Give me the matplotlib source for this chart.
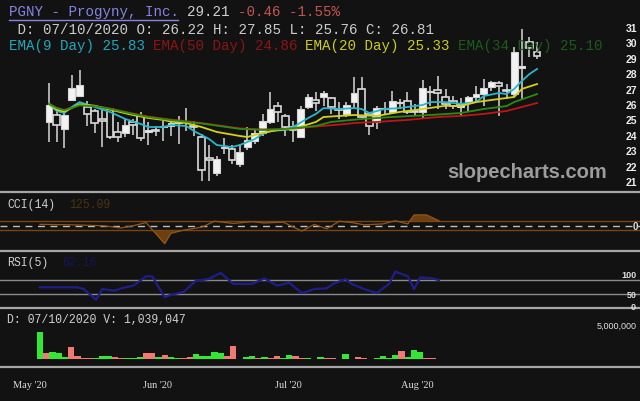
import matplotlib
matplotlib.use('Agg')
import matplotlib.pyplot as plt
from matplotlib.lines import Line2D

W, H = 640, 402
BG = '#121212'

# ---------------- data ----------------
opens = [24.92, 25.35, 24.44, 26.32, 26.60, 25.89, 25.59, 25.09, 25.74, 24.23,
         24.18, 24.88, 25.27, 24.27, 24.40, 24.55, 24.66, 24.83, 24.88, 24.66,
         23.90, 22.56, 21.58, 23.22, 23.14, 22.17, 23.25, 23.68, 24.18, 24.88,
         25.92, 25.27, 24.55, 23.90, 25.85, 26.35, 26.54, 26.45, 25.74, 25.42,
         26.22, 27.04, 25.42, 24.88, 25.72, 25.53, 26.11, 26.28, 25.63, 25.55,
         26.82, 26.98, 26.52, 26.26, 25.87, 26.19, 26.52, 26.71, 27.17, 27.43,
         26.93, 26.71, 28.40, 30.11, 29.45]
highs = [27.43, 25.74, 25.74, 27.95, 28.29, 26.28, 25.74, 25.74, 25.79, 24.88,
         25.09, 25.09, 25.53, 24.88, 24.66, 24.98, 25.05, 25.31, 25.79, 24.98,
         24.12, 23.40, 22.71, 23.84, 23.40, 23.47, 24.55, 24.44, 25.42, 26.82,
         26.18, 25.42, 24.98, 25.95, 26.71, 26.82, 26.93, 26.50, 26.18, 26.21,
         27.85, 27.80, 25.53, 25.95, 26.18, 26.93, 26.39, 26.82, 26.07, 27.64,
         27.25, 27.86, 27.04, 26.58, 26.45, 26.58, 27.23, 27.69, 27.56, 27.56,
         27.36, 29.77, 30.93, 30.42, 30.09]
lows = [23.58, 23.58, 23.19, 26.28, 26.56, 24.66, 24.18, 23.25, 23.79, 23.62,
        23.90, 24.05, 23.68, 23.40, 23.97, 23.68, 24.01, 23.47, 24.33, 24.01,
        21.08, 21.08, 21.41, 22.82, 22.17, 21.95, 23.10, 23.47, 23.97, 24.77,
        24.88, 23.97, 23.62, 23.84, 25.74, 25.60, 25.95, 25.42, 25.09, 25.20,
        25.76, 25.13, 24.05, 24.44, 25.42, 25.42, 25.74, 25.42, 25.31, 25.14,
        25.95, 25.74, 25.74, 25.74, 25.29, 25.55, 26.19, 25.93, 26.91, 25.29,
        26.39, 26.52, 26.39, 29.12, 28.99]
closes = [26.02, 24.72, 25.37, 27.08, 27.30, 25.42, 24.81, 24.98, 23.90, 23.90,
          24.70, 24.72, 23.86, 24.40, 24.31, 24.66, 24.81, 25.03, 24.98, 24.55,
          21.80, 22.45, 22.49, 23.28, 22.45, 22.93, 23.73, 24.18, 24.98, 25.74,
          25.53, 24.55, 24.40, 25.74, 26.54, 26.15, 26.76, 25.85, 25.68, 26.02,
          26.81, 25.20, 24.66, 25.79, 25.76, 26.28, 26.21, 25.53, 25.57, 27.10,
          26.93, 26.76, 26.07, 25.93, 26.13, 26.52, 26.71, 27.10, 27.49, 27.23,
          26.91, 29.44, 28.53, 29.67, 29.21]

# EMA lines: (bar index, value)
ema9_idx = [0, 1, 2, 3, 4, 6, 8, 10, 12, 13, 15, 16, 18, 19, 21, 22, 24, 25, 27, 28, 29, 31,
            32, 34, 35, 36, 38, 40, 41, 42, 44, 46, 47, 49, 50, 52, 54, 56, 57, 59, 60, 61, 62, 63, 64]
ema9_val = [26.07, 25.61, 25.48, 25.87, 26.19, 25.87, 25.55, 25.09, 24.77, 24.57, 24.57, 24.70,
            24.64, 24.31, 23.79, 23.40, 23.27, 23.40, 23.79, 24.12, 24.31, 24.38, 24.57, 25.16,
            25.42, 25.80, 25.74, 25.80, 25.74, 25.48, 25.74, 25.80, 25.87, 26.00, 26.19, 26.19,
            26.07, 26.19, 26.58, 26.78, 26.71, 27.04, 27.56, 28.01, 28.34]
ema20_idx = [0, 1, 2, 4, 6, 8, 11, 13, 15, 16, 18, 20, 22, 25, 26, 28, 30, 32, 35, 36, 40, 43,
             46, 49, 52, 54, 56, 59, 61, 62, 64]
ema20_val = [26.07, 25.70, 25.58, 26.05, 25.95, 25.70, 25.35, 25.16, 25.03, 24.92, 24.83, 24.57,
             24.25, 23.99, 23.92, 24.18, 24.38, 24.44, 24.90, 25.22, 25.35, 25.29, 25.55, 25.74,
             25.95, 25.93, 26.19, 26.39, 26.52, 27.04, 27.36]
ema34_idx = [0, 1, 2, 4, 6, 8, 11, 13, 16, 20, 25, 28, 31, 35, 37, 41, 45, 50, 54, 57, 60, 61, 64]
ema34_val = [26.07, 25.80, 25.66, 25.98, 25.92, 25.75, 25.42, 25.22, 25.02, 24.80, 24.45, 24.38,
             24.44, 24.64, 24.90, 25.09, 25.22, 25.35, 25.48, 25.74, 25.93, 26.19, 26.71]
ema50_idx = [0, 1, 2, 4, 6, 8, 11, 13, 16, 20, 25, 28, 31, 34, 39, 40, 43, 47, 51, 54, 57, 60, 62, 64]
ema50_val = [26.08, 25.82, 25.68, 26.00, 25.94, 25.77, 25.45, 25.25, 25.05, 24.83, 24.48, 24.41,
             24.43, 24.56, 24.77, 24.83, 24.90, 25.03, 25.22, 25.29, 25.42, 25.61, 25.87, 26.13]

price_ticks = [21, 22, 23, 24, 25, 26, 27, 28, 29, 30, 31]

# CCI(14): (bar index, value)
cci_idx = [0, 5, 10, 13, 15, 17, 20, 21, 23, 26, 28, 31, 34, 36, 39, 42, 44, 46, 48, 50, 52, 55,
           57, 59, 60, 62, 64]
cci_val = [30, 20, 0, -50, 0, 70, -400, -170, -100, -30, 100, 50, 90, 60, 80, -120, 30, -70, 100,
           70, 20, 40, 110, 40, 240, 240, 110]

# RSI(5): (bar index, value)
rsi_idx = [0, 6, 7, 9, 10, 12, 13, 15, 17, 18, 20, 21, 23, 25, 27, 29, 31, 34, 36, 38, 40, 42,
           44, 46, 47, 49, 50, 52, 54, 56, 57, 59, 60, 61, 63, 64]
rsi_val = [49, 49, 44, 13, 44, 39, 46, 54, 81, 81, 20, 27, 35, 68, 73, 91, 59, 59, 75, 54, 62,
           32, 44, 46, 59, 73, 59, 44, 32, 59, 95, 81, 44, 78, 75, 70]

# Volume (millions) and up/down flag (1 = up / green)
volume = [3.90, 0.86, 0.95, 0.86, 0.24, 1.76, 0.38, 0.19, 0.19, 0.19,
          0.48, 0.38, 0.33, 0.10, 0.10, 0.19, 0.24, 0.86, 0.81, 0.24,
          0.62, 0.33, 0.19, 0.10, 0.29, 0.67, 0.48, 0.38, 1.00, 0.86,
          0.48, 1.90, 0.05, 0.24, 0.43, 0.19, 0.24, 0.19, 0.38, 0.19,
          0.57, 0.38, 0.19, 0.19, 0.05, 0.29, 0.14, 0.10, 0.05, 0.67,
          0.05, 0.24, 0.10, 0.05, 0.10, 0.43, 0.14, 0.62, 1.10, 0.24,
          1.30, 1.05, 0.19, 0.10, 0.05]
vol_up = [1, 0, 1, 1, 1, 0, 0, 0, 0, 1,
          1, 1, 0, 0, 1, 1, 1, 0, 0, 1,
          0, 1, 1, 0, 0, 1, 1, 1, 1, 1,
          0, 0, 1, 1, 1, 0, 1, 0, 0, 1,
          1, 0, 0, 1, 1, 1, 0, 0, 1, 1,
          1, 0, 0, 1, 1, 1, 1, 1, 0, 1,
          1, 1, 0, 0, 0]

month_labels = ["May '20", "Jun '20", "Jul '20", "Aug '20"]
month_pos = [-1.6, 18.8, 39.8, 60.5]   # on the lower-panel bar scale

# ---------------- figure ----------------
fig = plt.figure(figsize=(W / 100, H / 100), dpi=100, facecolor=BG)

def fy(y):
    return 1 - y / H

def add_ax(top, bottom):
    ax = fig.add_axes([0, fy(bottom), 1, (bottom - top) / H])
    ax.set_facecolor(BG)
    ax.axis('off')
    return ax

ax = add_ax(0, 192)
ax_cci = add_ax(193, 251)
ax_rsi = add_ax(251, 308)
ax_vol = add_ax(308, 367)

# main panel scale
ax.set_xlim(-6.43, 77.5)
ax.set_ylim(20.415, 32.883)
low_xlim = (-6.42, 96.25)
for a in (ax_cci, ax_rsi, ax_vol):
    a.set_xlim(*low_xlim)

# candles
n = len(closes)
for i in range(n):
    o, h, l, c = opens[i], highs[i], lows[i], closes[i]
    ax.vlines(i, l, h, color='#c8c8c8', lw=1.2, zorder=2)
    bot = min(o, c)
    hgt = max(abs(c - o), 0.07)
    if c >= o:
        ax.bar(i, hgt, bottom=bot, width=0.9, color='#f2f2f2', edgecolor='#d4d4d4',
               lw=0.8, zorder=3)
    else:
        ax.bar(i, hgt, bottom=bot, width=0.9, color=BG, edgecolor='#dadada',
               lw=1.2, zorder=3)

ax.plot(ema50_idx, ema50_val, color='#c01515', lw=1.3, zorder=4)
ax.plot(ema9_idx, ema9_val, color='#2ab6cc', lw=1.3, zorder=5)
ax.plot(ema20_idx, ema20_val, color='#d2d21e', lw=1.3, zorder=6)
ax.plot(ema34_idx, ema34_val, color='#2a8a12', lw=1.3, zorder=7)

for t in price_ticks:
    ax.text(626 / W, t, str(t), transform=ax.get_yaxis_transform(), color='#ececec',
            fontsize=7.5, fontweight='bold', family='Liberation Sans', va='center', ha='left')

fig.text(527 / W, fy(173), 'slopecharts.com', color='#9c9c9c', fontsize=14.5,
         fontweight='bold', family='Liberation Sans', ha='center', va='center')

# header texts (monospace, char width 8.47 px)
MONO = 'Liberation Mono'
cw = 8.47

def seg(x_char, y, s, color, size=10.2, cwid=cw, x0=9):
    fig.text((x0 + x_char * cwid) / W, fy(y), s, color=color, fontsize=size,
             family=MONO, ha='left', va='center')

seg(0, 12, 'PGNY - Progyny, Inc.', '#8585e6')
fig.add_artist(Line2D([9 / W, 178 / W], [fy(20.5), fy(20.5)], color='#8585e6', lw=1.0))
seg(21, 12, '29.21', '#d0d0d0')
seg(27, 12, '-0.46 -1.55%', '#c45454')
seg(0, 30, ' D: 07/10/2020 O: 26.22 H: 27.85 L: 25.76 C: 26.81', '#cccccc')
seg(0, 46, 'EMA(9 Day) 25.83', '#1fa8bc')
seg(17, 46, 'EMA(50 Day) 24.86', '#8e1414')
seg(35, 46, 'EMA(20 Day) 25.33', '#cccc1c')
seg(53, 46, 'EMA(34 Day) 25.10', '#1a5c1a')

# ---------------- CCI ----------------
ax_cci.set_ylim(-540, 749)
ax_cci.axhline(100, color='#7c4410', lw=1.0)
ax_cci.axhline(-100, color='#7c4410', lw=1.0)
ax_cci.axhline(0, color='#bdbdbd', lw=1.0, ls=(0, (5, 4)))
ax_cci.plot(cci_idx, cci_val, color='#93561a', lw=0.9)
ax_cci.fill_between(cci_idx, cci_val, 100, where=[v > 100 for v in cci_val],
                    interpolate=True, color='#6e3f10', lw=0)
ax_cci.fill_between(cci_idx, cci_val, -100, where=[v < -100 for v in cci_val],
                    interpolate=True, color='#6e3f10', lw=0)
seg(0, 205, 'CCI(14)', '#d0d0d0', size=8.3, cwid=6.9, x0=7)
seg(9, 205, '125.09', '#4a3212', size=8.3, cwid=6.9, x0=7)
ax_cci.text(633 / W, 0, '0', transform=ax_cci.get_yaxis_transform(), color='#e0e0e0',
            fontsize=7, fontweight='bold', family='Liberation Sans', va='center', ha='left')

# ---------------- RSI ----------------
ax_rsi.set_ylim(-8.5, 158)
ax_rsi.axhline(70, color='#8a8a8a', lw=1.0)
ax_rsi.axhline(30, color='#8a8a8a', lw=1.0)
ax_rsi.plot(rsi_idx, rsi_val, color='#1e1e8c', lw=1.6)
seg(0, 263, 'RSI(5)', '#d0d0d0', size=8.3, cwid=6.9, x0=7)
seg(8, 263, '62.16', '#141460', size=8.3, cwid=6.9, x0=7)
for v, yy, xx in ((100, 276, 629), (50, 296, 632), (0, 307, 633)):
    fig.text(xx / W, fy(yy), str(v), color='#e0e0e0', fontsize=6.5, fontweight='bold',
             family='Liberation Sans', va='center', ha='center')

# ---------------- Volume ----------------
ax_vol.set_ylim(-1.0, 7.43)
cols = ['#33e833' if u else '#f07a72' for u in vol_up]
ax_vol.bar(range(len(volume)), volume, width=1.0, color=cols, lw=0)
seg(0, 320, 'D: 07/10/2020 V: 1,039,047', '#d0d0d0', size=8.3, cwid=6.9, x0=7)
fig.text(617 / W, fy(326), '5,000,000', color='#e0e0e0', fontsize=6.5,
         family='Liberation Sans', va='center', ha='center')

# month labels (below volume panel)
for lab, p in zip(month_labels, month_pos):
    ax_vol.text(p, -0.32, lab, transform=ax_vol.get_xaxis_transform(), color='#dcdcdc',
                fontsize=7.5, family='Liberation Serif', ha='center', va='center')

# separators
for yy in (192.5, 251.5, 308.5, 367.5):
    fig.add_artist(Line2D([0, 1], [fy(yy), fy(yy)], color='#a6a6a6', lw=1.6))

fig.savefig('out.png', dpi=100, facecolor=BG)
